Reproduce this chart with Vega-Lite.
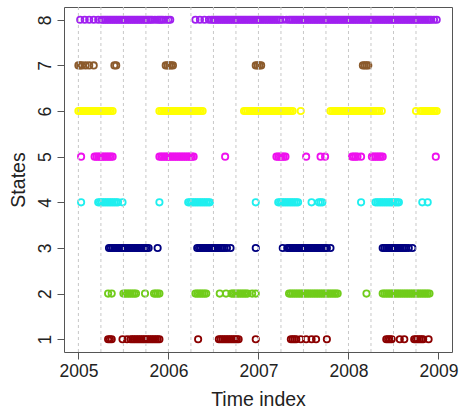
{
"$schema": "https://vega.github.io/schema/vega-lite/v6.json",
"width": 388, "height": 345,
"autosize": "none",
"padding": {"left": 64, "top": 7, "right": 7, "bottom": 62},
"background": "white",
"config": {"view": {"stroke": "#555555", "strokeWidth": 1}, "font": "Liberation Sans"},
"datasets": {
"grid": [{"g":2005},{"g":2005.25},{"g":2005.5},{"g":2005.75},{"g":2006},{"g":2006.25},{"g":2006.5},{"g":2006.75},{"g":2007},{"g":2007.25},{"g":2007.5},{"g":2007.75},{"g":2008},{"g":2008.25},{"g":2008.5},{"g":2008.75}],
"pts": [
{"t":2005.02,"s":8},{"t":2005.07,"s":8},{"t":2005.12,"s":8},{"t":2005.17,"s":8},{"t":2005.22,"s":8},
{"t":2005.26,"s":8},{"t":2005.28,"s":8},{"t":2005.30,"s":8},{"t":2005.32,"s":8},{"t":2005.34,"s":8},{"t":2005.36,"s":8},{"t":2005.38,"s":8},{"t":2005.40,"s":8},{"t":2005.42,"s":8},{"t":2005.44,"s":8},{"t":2005.46,"s":8},{"t":2005.48,"s":8},{"t":2005.50,"s":8},{"t":2005.52,"s":8},{"t":2005.54,"s":8},{"t":2005.56,"s":8},{"t":2005.58,"s":8},{"t":2005.60,"s":8},{"t":2005.62,"s":8},{"t":2005.64,"s":8},{"t":2005.66,"s":8},{"t":2005.68,"s":8},{"t":2005.70,"s":8},{"t":2005.72,"s":8},{"t":2005.74,"s":8},{"t":2005.76,"s":8},{"t":2005.78,"s":8},{"t":2005.80,"s":8},{"t":2005.82,"s":8},{"t":2005.85,"s":8},{"t":2005.88,"s":8},{"t":2005.90,"s":8},{"t":2005.92,"s":8},{"t":2005.94,"s":8},{"t":2005.97,"s":8},{"t":2006.00,"s":8},{"t":2006.02,"s":8},
{"t":2006.30,"s":8},{"t":2006.35,"s":8},{"t":2006.40,"s":8},{"t":2006.45,"s":8},
{"t":2006.48,"s":8},{"t":2006.50,"s":8},{"t":2006.52,"s":8},{"t":2006.54,"s":8},{"t":2006.56,"s":8},{"t":2006.58,"s":8},{"t":2006.60,"s":8},{"t":2006.62,"s":8},{"t":2006.64,"s":8},{"t":2006.66,"s":8},{"t":2006.68,"s":8},{"t":2006.70,"s":8},{"t":2006.72,"s":8},{"t":2006.74,"s":8},{"t":2006.76,"s":8},{"t":2006.78,"s":8},{"t":2006.80,"s":8},{"t":2006.82,"s":8},{"t":2006.84,"s":8},{"t":2006.86,"s":8},{"t":2006.88,"s":8},{"t":2006.90,"s":8},{"t":2006.92,"s":8},{"t":2006.94,"s":8},{"t":2006.96,"s":8},{"t":2006.98,"s":8},
{"t":2007.00,"s":8},{"t":2007.02,"s":8},{"t":2007.04,"s":8},{"t":2007.06,"s":8},{"t":2007.08,"s":8},{"t":2007.10,"s":8},{"t":2007.12,"s":8},{"t":2007.14,"s":8},{"t":2007.16,"s":8},{"t":2007.18,"s":8},{"t":2007.20,"s":8},{"t":2007.22,"s":8},{"t":2007.24,"s":8},{"t":2007.27,"s":8},{"t":2007.31,"s":8},{"t":2007.34,"s":8},{"t":2007.36,"s":8},{"t":2007.38,"s":8},{"t":2007.40,"s":8},{"t":2007.42,"s":8},{"t":2007.44,"s":8},{"t":2007.46,"s":8},{"t":2007.48,"s":8},{"t":2007.50,"s":8},{"t":2007.52,"s":8},{"t":2007.54,"s":8},{"t":2007.56,"s":8},{"t":2007.58,"s":8},{"t":2007.60,"s":8},{"t":2007.62,"s":8},{"t":2007.64,"s":8},{"t":2007.66,"s":8},{"t":2007.68,"s":8},{"t":2007.70,"s":8},{"t":2007.72,"s":8},{"t":2007.74,"s":8},{"t":2007.76,"s":8},{"t":2007.78,"s":8},{"t":2007.80,"s":8},{"t":2007.82,"s":8},{"t":2007.84,"s":8},{"t":2007.86,"s":8},{"t":2007.88,"s":8},{"t":2007.90,"s":8},{"t":2007.92,"s":8},{"t":2007.94,"s":8},{"t":2007.96,"s":8},{"t":2007.98,"s":8},
{"t":2008.00,"s":8},{"t":2008.02,"s":8},{"t":2008.04,"s":8},{"t":2008.06,"s":8},{"t":2008.08,"s":8},{"t":2008.10,"s":8},{"t":2008.12,"s":8},{"t":2008.14,"s":8},{"t":2008.16,"s":8},{"t":2008.18,"s":8},{"t":2008.20,"s":8},{"t":2008.22,"s":8},{"t":2008.24,"s":8},{"t":2008.26,"s":8},{"t":2008.28,"s":8},{"t":2008.30,"s":8},{"t":2008.32,"s":8},{"t":2008.34,"s":8},{"t":2008.36,"s":8},{"t":2008.38,"s":8},{"t":2008.40,"s":8},{"t":2008.42,"s":8},{"t":2008.44,"s":8},{"t":2008.46,"s":8},{"t":2008.48,"s":8},{"t":2008.50,"s":8},{"t":2008.52,"s":8},{"t":2008.54,"s":8},{"t":2008.56,"s":8},{"t":2008.58,"s":8},{"t":2008.60,"s":8},{"t":2008.62,"s":8},{"t":2008.64,"s":8},{"t":2008.66,"s":8},{"t":2008.68,"s":8},{"t":2008.70,"s":8},{"t":2008.72,"s":8},{"t":2008.74,"s":8},{"t":2008.76,"s":8},{"t":2008.78,"s":8},{"t":2008.80,"s":8},{"t":2008.82,"s":8},{"t":2008.84,"s":8},{"t":2008.86,"s":8},{"t":2008.88,"s":8},{"t":2008.90,"s":8},{"t":2008.92,"s":8},{"t":2008.95,"s":8},{"t":2008.98,"s":8},

{"t":2005.00,"s":7},{"t":2005.02,"s":7},{"t":2005.04,"s":7},{"t":2005.08,"s":7},{"t":2005.12,"s":7},{"t":2005.17,"s":7},{"t":2005.40,"s":7},{"t":2005.42,"s":7},{"t":2005.97,"s":7},{"t":2005.99,"s":7},{"t":2006.01,"s":7},{"t":2006.03,"s":7},{"t":2006.05,"s":7},{"t":2006.97,"s":7},{"t":2006.99,"s":7},{"t":2007.01,"s":7},{"t":2007.03,"s":7},{"t":2008.16,"s":7},{"t":2008.18,"s":7},{"t":2008.20,"s":7},{"t":2008.22,"s":7},

{"t":2005.00,"s":6},{"t":2005.02,"s":6},{"t":2005.04,"s":6},{"t":2005.06,"s":6},{"t":2005.08,"s":6},{"t":2005.10,"s":6},{"t":2005.12,"s":6},{"t":2005.14,"s":6},{"t":2005.16,"s":6},{"t":2005.18,"s":6},{"t":2005.20,"s":6},{"t":2005.22,"s":6},{"t":2005.24,"s":6},{"t":2005.26,"s":6},{"t":2005.28,"s":6},{"t":2005.30,"s":6},{"t":2005.32,"s":6},{"t":2005.34,"s":6},{"t":2005.36,"s":6},{"t":2005.38,"s":6},
{"t":2005.90,"s":6},{"t":2005.92,"s":6},{"t":2005.94,"s":6},{"t":2005.96,"s":6},{"t":2005.98,"s":6},{"t":2006.00,"s":6},{"t":2006.02,"s":6},{"t":2006.04,"s":6},{"t":2006.06,"s":6},{"t":2006.08,"s":6},{"t":2006.10,"s":6},{"t":2006.12,"s":6},{"t":2006.14,"s":6},{"t":2006.16,"s":6},{"t":2006.18,"s":6},{"t":2006.20,"s":6},{"t":2006.22,"s":6},{"t":2006.24,"s":6},{"t":2006.26,"s":6},{"t":2006.28,"s":6},{"t":2006.30,"s":6},{"t":2006.32,"s":6},{"t":2006.34,"s":6},{"t":2006.36,"s":6},{"t":2006.38,"s":6},
{"t":2006.84,"s":6},{"t":2006.86,"s":6},{"t":2006.88,"s":6},{"t":2006.90,"s":6},{"t":2006.92,"s":6},{"t":2006.94,"s":6},{"t":2006.96,"s":6},{"t":2006.98,"s":6},{"t":2007.00,"s":6},{"t":2007.02,"s":6},{"t":2007.04,"s":6},{"t":2007.06,"s":6},{"t":2007.08,"s":6},{"t":2007.10,"s":6},{"t":2007.12,"s":6},{"t":2007.14,"s":6},{"t":2007.16,"s":6},{"t":2007.18,"s":6},{"t":2007.20,"s":6},{"t":2007.22,"s":6},{"t":2007.24,"s":6},{"t":2007.26,"s":6},{"t":2007.28,"s":6},{"t":2007.30,"s":6},{"t":2007.32,"s":6},{"t":2007.34,"s":6},{"t":2007.36,"s":6},{"t":2007.38,"s":6},
{"t":2007.47,"s":6},
{"t":2007.80,"s":6},{"t":2007.82,"s":6},{"t":2007.84,"s":6},{"t":2007.86,"s":6},{"t":2007.88,"s":6},{"t":2007.90,"s":6},{"t":2007.92,"s":6},{"t":2007.94,"s":6},{"t":2007.96,"s":6},{"t":2007.98,"s":6},{"t":2008.00,"s":6},{"t":2008.02,"s":6},{"t":2008.04,"s":6},{"t":2008.06,"s":6},{"t":2008.08,"s":6},{"t":2008.10,"s":6},{"t":2008.12,"s":6},{"t":2008.14,"s":6},{"t":2008.16,"s":6},{"t":2008.18,"s":6},{"t":2008.20,"s":6},{"t":2008.22,"s":6},{"t":2008.24,"s":6},{"t":2008.26,"s":6},{"t":2008.28,"s":6},{"t":2008.30,"s":6},{"t":2008.32,"s":6},{"t":2008.34,"s":6},{"t":2008.37,"s":6},
{"t":2008.75,"s":6},{"t":2008.80,"s":6},{"t":2008.82,"s":6},{"t":2008.84,"s":6},{"t":2008.86,"s":6},{"t":2008.88,"s":6},{"t":2008.90,"s":6},{"t":2008.92,"s":6},{"t":2008.94,"s":6},{"t":2008.96,"s":6},{"t":2008.98,"s":6},

{"t":2005.03,"s":5},{"t":2005.18,"s":5},{"t":2005.20,"s":5},{"t":2005.22,"s":5},{"t":2005.24,"s":5},{"t":2005.26,"s":5},{"t":2005.28,"s":5},{"t":2005.30,"s":5},{"t":2005.32,"s":5},{"t":2005.34,"s":5},{"t":2005.36,"s":5},{"t":2005.38,"s":5},
{"t":2005.90,"s":5},{"t":2005.92,"s":5},{"t":2005.94,"s":5},{"t":2005.96,"s":5},{"t":2005.98,"s":5},{"t":2006.00,"s":5},{"t":2006.02,"s":5},{"t":2006.04,"s":5},{"t":2006.06,"s":5},{"t":2006.08,"s":5},{"t":2006.10,"s":5},{"t":2006.12,"s":5},{"t":2006.14,"s":5},{"t":2006.16,"s":5},{"t":2006.18,"s":5},{"t":2006.20,"s":5},{"t":2006.22,"s":5},{"t":2006.24,"s":5},{"t":2006.26,"s":5},{"t":2006.28,"s":5},
{"t":2006.63,"s":5},{"t":2007.20,"s":5},{"t":2007.22,"s":5},{"t":2007.24,"s":5},{"t":2007.26,"s":5},{"t":2007.28,"s":5},{"t":2007.30,"s":5},{"t":2007.53,"s":5},{"t":2007.69,"s":5},{"t":2007.74,"s":5},
{"t":2008.04,"s":5},{"t":2008.06,"s":5},{"t":2008.08,"s":5},{"t":2008.10,"s":5},{"t":2008.14,"s":5},{"t":2008.26,"s":5},{"t":2008.28,"s":5},{"t":2008.30,"s":5},{"t":2008.32,"s":5},{"t":2008.34,"s":5},{"t":2008.36,"s":5},{"t":2008.38,"s":5},{"t":2008.97,"s":5},

{"t":2005.03,"s":4},{"t":2005.22,"s":4},{"t":2005.24,"s":4},{"t":2005.26,"s":4},{"t":2005.28,"s":4},{"t":2005.30,"s":4},{"t":2005.32,"s":4},{"t":2005.34,"s":4},{"t":2005.36,"s":4},{"t":2005.38,"s":4},{"t":2005.40,"s":4},{"t":2005.42,"s":4},{"t":2005.44,"s":4},{"t":2005.49,"s":4},{"t":2005.90,"s":4},
{"t":2006.22,"s":4},{"t":2006.24,"s":4},{"t":2006.26,"s":4},{"t":2006.28,"s":4},{"t":2006.30,"s":4},{"t":2006.32,"s":4},{"t":2006.34,"s":4},{"t":2006.36,"s":4},{"t":2006.38,"s":4},{"t":2006.40,"s":4},{"t":2006.42,"s":4},{"t":2006.44,"s":4},{"t":2006.46,"s":4},{"t":2006.97,"s":4},
{"t":2007.22,"s":4},{"t":2007.24,"s":4},{"t":2007.26,"s":4},{"t":2007.28,"s":4},{"t":2007.30,"s":4},{"t":2007.32,"s":4},{"t":2007.34,"s":4},{"t":2007.36,"s":4},{"t":2007.38,"s":4},{"t":2007.40,"s":4},{"t":2007.42,"s":4},{"t":2007.44,"s":4},{"t":2007.59,"s":4},{"t":2007.67,"s":4},{"t":2007.69,"s":4},{"t":2007.71,"s":4},{"t":2008.14,"s":4},
{"t":2008.30,"s":4},{"t":2008.32,"s":4},{"t":2008.34,"s":4},{"t":2008.36,"s":4},{"t":2008.38,"s":4},{"t":2008.40,"s":4},{"t":2008.42,"s":4},{"t":2008.44,"s":4},{"t":2008.46,"s":4},{"t":2008.48,"s":4},{"t":2008.50,"s":4},{"t":2008.52,"s":4},{"t":2008.54,"s":4},{"t":2008.56,"s":4},{"t":2008.82,"s":4},{"t":2008.88,"s":4},

{"t":2005.34,"s":3},{"t":2005.36,"s":3},{"t":2005.38,"s":3},{"t":2005.40,"s":3},{"t":2005.42,"s":3},{"t":2005.44,"s":3},{"t":2005.46,"s":3},{"t":2005.48,"s":3},{"t":2005.50,"s":3},{"t":2005.52,"s":3},{"t":2005.54,"s":3},{"t":2005.56,"s":3},{"t":2005.58,"s":3},{"t":2005.60,"s":3},{"t":2005.62,"s":3},{"t":2005.64,"s":3},{"t":2005.66,"s":3},{"t":2005.68,"s":3},{"t":2005.70,"s":3},{"t":2005.72,"s":3},{"t":2005.74,"s":3},{"t":2005.76,"s":3},{"t":2005.78,"s":3},{"t":2005.88,"s":3},
{"t":2006.32,"s":3},{"t":2006.34,"s":3},{"t":2006.36,"s":3},{"t":2006.38,"s":3},{"t":2006.40,"s":3},{"t":2006.42,"s":3},{"t":2006.44,"s":3},{"t":2006.46,"s":3},{"t":2006.48,"s":3},{"t":2006.50,"s":3},{"t":2006.52,"s":3},{"t":2006.54,"s":3},{"t":2006.56,"s":3},{"t":2006.58,"s":3},{"t":2006.60,"s":3},{"t":2006.62,"s":3},{"t":2006.65,"s":3},{"t":2006.69,"s":3},{"t":2006.97,"s":3},{"t":2007.27,"s":3},
{"t":2007.32,"s":3},{"t":2007.34,"s":3},{"t":2007.36,"s":3},{"t":2007.38,"s":3},{"t":2007.40,"s":3},{"t":2007.42,"s":3},{"t":2007.44,"s":3},{"t":2007.46,"s":3},{"t":2007.48,"s":3},{"t":2007.50,"s":3},{"t":2007.52,"s":3},{"t":2007.54,"s":3},{"t":2007.56,"s":3},{"t":2007.58,"s":3},{"t":2007.60,"s":3},{"t":2007.62,"s":3},{"t":2007.64,"s":3},{"t":2007.66,"s":3},{"t":2007.68,"s":3},{"t":2007.70,"s":3},{"t":2007.72,"s":3},{"t":2007.74,"s":3},{"t":2007.76,"s":3},{"t":2007.80,"s":3},
{"t":2008.38,"s":3},{"t":2008.40,"s":3},{"t":2008.42,"s":3},{"t":2008.44,"s":3},{"t":2008.46,"s":3},{"t":2008.48,"s":3},{"t":2008.50,"s":3},{"t":2008.52,"s":3},{"t":2008.54,"s":3},{"t":2008.56,"s":3},{"t":2008.58,"s":3},{"t":2008.60,"s":3},{"t":2008.62,"s":3},{"t":2008.64,"s":3},{"t":2008.67,"s":3},{"t":2008.71,"s":3},

{"t":2005.33,"s":2},{"t":2005.37,"s":2},{"t":2005.50,"s":2},{"t":2005.52,"s":2},{"t":2005.54,"s":2},{"t":2005.56,"s":2},{"t":2005.58,"s":2},{"t":2005.60,"s":2},{"t":2005.62,"s":2},{"t":2005.64,"s":2},{"t":2005.74,"s":2},{"t":2005.84,"s":2},{"t":2005.86,"s":2},{"t":2005.88,"s":2},{"t":2005.90,"s":2},
{"t":2006.30,"s":2},{"t":2006.32,"s":2},{"t":2006.34,"s":2},{"t":2006.36,"s":2},{"t":2006.38,"s":2},{"t":2006.40,"s":2},{"t":2006.42,"s":2},{"t":2006.57,"s":2},{"t":2006.64,"s":2},
{"t":2006.70,"s":2},{"t":2006.72,"s":2},{"t":2006.74,"s":2},{"t":2006.76,"s":2},{"t":2006.78,"s":2},{"t":2006.80,"s":2},{"t":2006.82,"s":2},{"t":2006.84,"s":2},{"t":2006.86,"s":2},{"t":2006.88,"s":2},{"t":2006.93,"s":2},{"t":2006.97,"s":2},
{"t":2007.34,"s":2},{"t":2007.36,"s":2},{"t":2007.38,"s":2},{"t":2007.40,"s":2},{"t":2007.42,"s":2},{"t":2007.44,"s":2},{"t":2007.46,"s":2},{"t":2007.48,"s":2},{"t":2007.50,"s":2},{"t":2007.52,"s":2},{"t":2007.54,"s":2},{"t":2007.56,"s":2},{"t":2007.58,"s":2},{"t":2007.60,"s":2},{"t":2007.62,"s":2},{"t":2007.64,"s":2},{"t":2007.66,"s":2},{"t":2007.68,"s":2},{"t":2007.70,"s":2},{"t":2007.72,"s":2},{"t":2007.74,"s":2},{"t":2007.76,"s":2},{"t":2007.78,"s":2},{"t":2007.80,"s":2},{"t":2007.82,"s":2},{"t":2007.84,"s":2},{"t":2007.86,"s":2},{"t":2007.88,"s":2},
{"t":2008.20,"s":2},
{"t":2008.38,"s":2},{"t":2008.40,"s":2},{"t":2008.42,"s":2},{"t":2008.44,"s":2},{"t":2008.46,"s":2},{"t":2008.48,"s":2},{"t":2008.50,"s":2},{"t":2008.52,"s":2},{"t":2008.54,"s":2},{"t":2008.56,"s":2},{"t":2008.58,"s":2},{"t":2008.60,"s":2},{"t":2008.62,"s":2},{"t":2008.64,"s":2},{"t":2008.66,"s":2},{"t":2008.68,"s":2},{"t":2008.70,"s":2},{"t":2008.72,"s":2},{"t":2008.74,"s":2},{"t":2008.76,"s":2},{"t":2008.78,"s":2},{"t":2008.80,"s":2},{"t":2008.82,"s":2},{"t":2008.84,"s":2},{"t":2008.86,"s":2},{"t":2008.88,"s":2},{"t":2008.90,"s":2},

{"t":2005.33,"s":1},{"t":2005.35,"s":1},{"t":2005.37,"s":1},{"t":2005.49,"s":1},{"t":2005.54,"s":1},
{"t":2005.58,"s":1},{"t":2005.60,"s":1},{"t":2005.62,"s":1},{"t":2005.64,"s":1},{"t":2005.66,"s":1},{"t":2005.68,"s":1},{"t":2005.70,"s":1},{"t":2005.72,"s":1},{"t":2005.74,"s":1},{"t":2005.76,"s":1},{"t":2005.78,"s":1},{"t":2005.80,"s":1},{"t":2005.82,"s":1},{"t":2005.84,"s":1},{"t":2005.86,"s":1},{"t":2005.88,"s":1},{"t":2005.90,"s":1},
{"t":2006.33,"s":1},
{"t":2006.56,"s":1},{"t":2006.58,"s":1},{"t":2006.60,"s":1},{"t":2006.62,"s":1},{"t":2006.64,"s":1},{"t":2006.66,"s":1},{"t":2006.68,"s":1},{"t":2006.70,"s":1},{"t":2006.72,"s":1},{"t":2006.74,"s":1},{"t":2006.76,"s":1},{"t":2006.78,"s":1},
{"t":2006.97,"s":1},
{"t":2007.36,"s":1},{"t":2007.38,"s":1},{"t":2007.40,"s":1},{"t":2007.42,"s":1},{"t":2007.47,"s":1},{"t":2007.53,"s":1},{"t":2007.59,"s":1},{"t":2007.64,"s":1},{"t":2007.76,"s":1},
{"t":2008.42,"s":1},{"t":2008.44,"s":1},{"t":2008.46,"s":1},{"t":2008.48,"s":1},{"t":2008.57,"s":1},{"t":2008.62,"s":1},{"t":2008.73,"s":1},{"t":2008.75,"s":1},{"t":2008.77,"s":1},{"t":2008.79,"s":1},{"t":2008.81,"s":1},{"t":2008.83,"s":1},{"t":2008.89,"s":1}
]
},
"layer": [
{
"data": {"name": "pts"},
"mark": {"type": "point", "shape": "circle", "filled": false, "size": 40, "strokeWidth": 1.8, "opacity": 1},
"encoding": {
"x": {"field": "t", "type": "quantitative", "title": "Time index",
"scale": {"domain": [2004.84, 2009.15], "nice": false, "zero": false},
"axis": {"values": [2005, 2006, 2007, 2008, 2009], "format": "d", "grid": false, "domain": false, "tickSize": 7, "tickColor": "#555555", "labelFontSize": 17.5, "labelPadding": 3, "labelColor": "#222222", "titleFontSize": 19.5, "titleFontWeight": "normal", "titleColor": "#222222", "titlePadding": 11}},
"y": {"field": "s", "type": "quantitative", "title": "States",
"scale": {"domain": [0.72, 8.28], "nice": false, "zero": false},
"axis": {"values": [1, 2, 3, 4, 5, 6, 7, 8], "format": "d", "grid": false, "domain": false, "tickSize": 7, "tickColor": "#555555", "labelFontSize": 17.5, "labelAngle": -90, "labelAlign": "center", "labelBaseline": "alphabetic", "labelPadding": 7, "labelColor": "#222222", "titleFontSize": 19.5, "titleFontWeight": "normal", "titleColor": "#222222", "titlePadding": 8}},
"color": {"field": "s", "type": "nominal", "legend": null,
"scale": {"domain": [1, 2, 3, 4, 5, 6, 7, 8], "range": ["#8B0000", "#70CC1A", "#000080", "#1FEFEF", "#EE11EE", "#FFFF00", "#8B5A2B", "#A020F0"]}}
}
},
{
"data": {"name": "grid"},
"mark": {"type": "rule", "strokeDash": [3, 3], "color": "#C8C8C8", "strokeWidth": 1},
"encoding": {
"x": {"field": "g", "type": "quantitative", "title": "Time index", "scale": {"domain": [2004.84, 2009.15], "nice": false, "zero": false}}
}
}
]
}
